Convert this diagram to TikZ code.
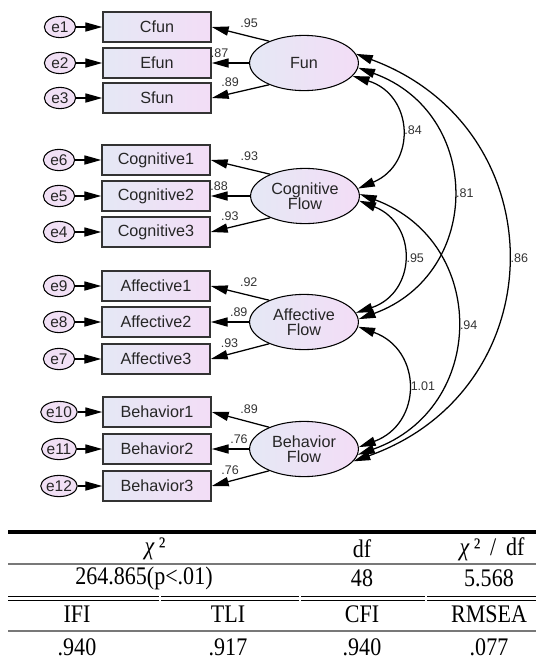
\documentclass[tikz,border=0pt]{standalone}
\usepackage{fontspec}
\setmainfont{Liberation Sans}
\newfontfamily\tabfont[FakeStretch=0.87]{Liberation Serif}
\usetikzlibrary{arrows.meta,shapes.geometric}

\definecolor{fillleft}{RGB}{229,232,245}
\definecolor{fillright}{RGB}{243,221,246}
\definecolor{errfill}{RGB}{241,224,245}
\definecolor{rulegray}{RGB}{120,120,120}

\tikzset{
  indbox/.style={draw=black!80,line width=1.1pt,left color=fillleft,right color=fillright,
    minimum width=2.7cm,minimum height=0.75cm,inner sep=0pt,text=black!85,
    font=\fontsize{11.5}{12}\selectfont},
  factor/.style={ellipse,draw,line width=0.75pt,left color=fillleft,right color=fillright,
    minimum width=2.72cm,minimum height=1.38cm,inner sep=0pt,align=center,text=black!85,
    font=\fontsize{11.5}{10.8}\selectfont},
  err/.style={ellipse,draw,line width=0.75pt,fill=errfill,minimum width=0.78cm,
    minimum height=0.53cm,inner sep=0pt,text=black!85,font=\fontsize{11}{12}\selectfont},
  coef/.style={font=\fontsize{8.9}{9}\selectfont,inner sep=1.5pt,text=black!80},
  cov/.style={<->,bend left=70,looseness=1.35},
  tabtext/.style={font=\tabfont\fontsize{18}{18}\selectfont,inner sep=0pt}
}

\begin{document}
\begin{tikzpicture}[x=0.025cm,y=0.025cm,line width=0.9pt,>={Triangle[length=12pt,width=6.5pt]}]
\useasboundingbox (0,0) rectangle (536,-659);

% Fun
\node[err] (e1) at (60,-27) {e1};
\node[err] (e2) at (60,-63) {e2};
\node[err] (e3) at (60,-98) {e3};
\node[indbox] (cfun) at (157,-27) {Cfun};
\node[indbox] (efun) at (157,-63) {Efun};
\node[indbox] (sfun) at (157,-98) {Sfun};
\node[factor] (fun) at (304,-63) {Fun};
\draw[->] (e1) -- (cfun);
\draw[->] (e2) -- (efun);
\draw[->] (e3) -- (sfun);
\draw[->] (fun.148) -- (cfun.east) node[coef,pos=0.35,above=4pt] {.95};
\draw[->] (fun.west) -- (efun.east) node[coef,pos=0.79,above=1.8pt] {.87};
\draw[->] (fun.212) -- (sfun.east) node[coef,pos=0.68,above=3pt] {.89};

% Cognitive Flow
\node[err] (e6) at (59,-160) {e6};
\node[err] (e5) at (59,-196) {e5};
\node[err] (e4) at (59,-232) {e4};
\node[indbox] (cog1) at (156,-160) {Cognitive1};
\node[indbox] (cog2) at (156,-196) {Cognitive2};
\node[indbox] (cog3) at (156,-232) {Cognitive3};
\node[factor] (cog) at (305,-196) {Cognitive\\Flow};
\draw[->] (e6) -- (cog1);
\draw[->] (e5) -- (cog2);
\draw[->] (e4) -- (cog3);
\draw[->] (cog.148) -- (cog1.east) node[coef,pos=0.35,above=4pt] {.93};
\draw[->] (cog.west) -- (cog2.east) node[coef,pos=0.79,above=1.8pt] {.88};
\draw[->] (cog.212) -- (cog3.east) node[coef,pos=0.68,above=3pt] {.93};

% Affective Flow
\node[err] (e9) at (59,-286) {e9};
\node[err] (e8) at (59,-322) {e8};
\node[err] (e7) at (59,-359) {e7};
\node[indbox] (aff1) at (156,-286) {Affective1};
\node[indbox] (aff2) at (156,-322) {Affective2};
\node[indbox] (aff3) at (156,-359) {Affective3};
\node[factor] (aff) at (304,-322) {Affective\\Flow};
\draw[->] (e9) -- (aff1);
\draw[->] (e8) -- (aff2);
\draw[->] (e7) -- (aff3);
\draw[->] (aff.148) -- (aff1.east) node[coef,pos=0.35,above=4pt] {.92};
\draw[->] (aff.west) -- (aff2.east) node[coef,pos=0.27,above=1.8pt] {.89};
\draw[->] (aff.212) -- (aff3.east) node[coef,pos=0.68,above=3pt] {.93};

% Behavior Flow
\node[err] (e10) at (59,-412) {e10};
\node[err] (e11) at (59,-449) {e11};
\node[err] (e12) at (59,-486) {e12};
\node[indbox] (beh1) at (157,-412) {Behavior1};
\node[indbox] (beh2) at (157,-449) {Behavior2};
\node[indbox] (beh3) at (157,-486) {Behavior3};
\node[factor] (beh) at (304,-449) {Behavior\\Flow};
\draw[->] (e10) -- (beh1);
\draw[->] (e11) -- (beh2);
\draw[->] (e12) -- (beh3);
\draw[->] (beh.148) -- (beh1.east) node[coef,pos=0.35,above=4pt] {.89};
\draw[->] (beh.west) -- (beh2.east) node[coef,pos=0.27,above=1.8pt] {.76};
\draw[->] (beh.212) -- (beh3.east) node[coef,pos=0.68,above=3pt] {.76};

% Covariances
\draw[cov,looseness=1.45] (fun.-15) to node[coef,midway,right=1pt] {.84} (cog.8);
\draw[cov] (fun.-5) to node[coef,midway,right=1pt] {.81} (aff.3);
\draw[cov] (fun.10) to node[coef,midway,right=1pt] {.86} (beh.-14);
\draw[cov,looseness=1.45] (cog.-5) to node[coef,midway,right=1pt] {.95} (aff.10);
\draw[cov] (cog.2) to node[coef,midway,right=1pt] {.94} (beh.-6);
\draw[cov,looseness=1.45] (aff.-5) to node[coef,midway,right=1pt] {1.01} (beh.2);

% Table
\draw[line width=2.5pt] (8,-532) -- (536,-532);
\draw[rulegray,line width=1.4pt] (8,-564) -- (536,-564);
\draw[line width=0.6pt] (8,-596) -- (159,-596) (161,-596) -- (299,-596)
  (301,-596) -- (425,-596) (427,-596) -- (536,-596);
\draw[line width=0.6pt] (8,-600) -- (159,-600) (161,-600) -- (299,-600)
  (301,-600) -- (425,-600) (427,-600) -- (536,-600);
\draw[rulegray,line width=1.4pt] (8,-631) -- (536,-631);

\node[tabtext] (chi) at (155,-549) {\textit{χ}\,²};
\node[tabtext] (df) at (362,-549) {df};
\node[tabtext] (chidf) at (492,-549) {\textit{χ}\,²\ \,/\ \,df};
\node[tabtext] (chival) at (144,-578) {264.865(p<.01)};
\node[tabtext] (dfval) at (362,-578) {48};
\node[tabtext] (chidfval) at (489,-578) {5.568};
\node[tabtext] (ifi) at (77,-614) {IFI};
\node[tabtext] (tli) at (228,-614) {TLI};
\node[tabtext] (cfi) at (362,-614) {CFI};
\node[tabtext] (rmsea) at (489,-614) {RMSEA};
\node[tabtext] (ifival) at (77,-647) {.940};
\node[tabtext] (tlival) at (228,-647) {.917};
\node[tabtext] (cfival) at (362,-647) {.940};
\node[tabtext] (rmseaval) at (489,-647) {.077};
\end{tikzpicture}
\end{document}
